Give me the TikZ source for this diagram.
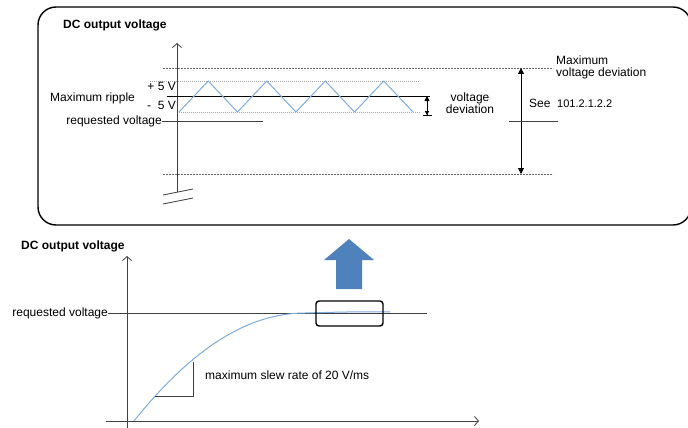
\documentclass[tikz,border=0pt]{standalone}
\usepackage{fontspec}
\setmainfont{Liberation Sans}
\usetikzlibrary{arrows.meta}
\definecolor{ripplecol}{RGB}{125,172,222}
\definecolor{upcol}{RGB}{79,129,189}

\begin{document}
\begin{tikzpicture}[x=1pt,y=-1pt,
	lbl/.style={font=\fontsize{12}{12}\selectfont, inner sep=0pt},
	ttl/.style={font=\fontsize{12}{12}\selectfont\bfseries, inner sep=0pt, anchor=west},
	axis/.style={draw=black!75, line width=0.8pt},
	limit/.style={draw=black!60, dash pattern=on 2pt off 1pt, line width=0.7pt},
	band/.style={draw=black!35, dash pattern=on 1pt off 1pt, line width=0.7pt},
	wave/.style={draw=ripplecol, line width=1pt},
	open/.style={-{Straight Barb[length=4pt,width=9pt]}}]
	\useasboundingbox (0,0) rectangle (688,428);
	
	% upper panel
	\draw[line width=1.4pt, rounded corners=18pt] (38,7) rectangle (691,225);
	\node[ttl] (title1) at (63,25) {DC output voltage};
	
	\coordinate (ax1top) at (177,43);
	\coordinate (ax1bot) at (177,192);
	\draw[axis, open] (ax1bot) -- (ax1top);
	\draw[axis] (163,195) -- (193,189)  (163,204) -- (193,198);
	
	\draw[limit] (163,68) -- (553,68);
	\draw[limit] (163,174) -- (553,174);
	\draw[band] (150,81) -- (420,81);
	\draw[band] (179,112) -- (420,112);
	\draw[axis, black] (167,96) -- (430,96);
	\foreach \k in {0,...,3}
		\draw[wave] ({179+58.5*\k},112) -- ({208.25+58.5*\k},81) -- ({237.5+58.5*\k},112);
	
	\node[lbl, anchor=west] (ripple) at (50,98) {Maximum ripple};
	\node[lbl, anchor=east] (plus) at (176,86) {+ 5 V};
	\node[lbl, anchor=east] (minus) at (176,105) {-\ \ 5 V};
	\node[lbl, anchor=east] (req1) at (162,121) {requested voltage};
	\draw[axis] (req1.east) -- (263,121);
	
	\coordinate (dvtop) at (427,96);
	\coordinate (dvbot) at (427,116);
	\draw[axis, black, {Bar[width=9pt]Triangle[length=4pt,width=4pt]}-{Triangle[length=5pt,width=5pt]}] (dvbot) -- (dvtop);
	\node[lbl, align=center] (vdev) at (470,103) {voltage\\deviation};
	
	\coordinate (mdtop) at (521,68);
	\coordinate (mdbot) at (521,174);
	\draw[axis, black, {Triangle[length=6pt,width=6pt]}-{Triangle[length=6pt,width=6pt]}] (mdbot) -- (mdtop);
	\draw[axis] (509,121) -- (558,121);
	\node[lbl, anchor=west] (see) at (529,103) {See\ \ {\fontsize{11}{11}\selectfont 101.2.1.2.2}};
	\node[lbl, anchor=west, align=left, font=\fontsize{12}{11.5}\selectfont] (maxdev) at (556,67.5) {Maximum\\voltage deviation};
	
	% lower panel
	\node[ttl] (title2) at (21,246) {DC output voltage};
	\coordinate (ax2top) at (127,256);
	\coordinate (ax2bot) at (127,430);
	\coordinate (ax2left) at (106,421);
	\coordinate (ax2right) at (479,421);
	\draw[axis, open] (ax2bot) -- (ax2top);
	\draw[axis, open] (ax2left) -- (ax2right);
	
	\node[lbl, anchor=east] (req2) at (108,313) {requested voltage};
	\draw[axis] (req2.east) -- (427,313);
	
	\draw[wave] (134,421) .. controls (194,346) and (250,313) .. (305,313) .. controls (340,312) and (365,311.5) .. (390,312);
	\draw[axis] (155,396) -- (193,396) -- (193,362);
	\node[lbl, anchor=west] (slew) at (205,375) {maximum slew rate of 20 V/ms};
	
	\node[draw, line width=1.4pt, rounded corners=3pt, minimum width=67pt, minimum height=25pt, inner sep=0pt] (zoombox) at (349.5,313.5) {};
	
	\fill[upcol] (336,289) -- (336,260) -- (324,260) -- (349,239) -- (374,260) -- (362,260) -- (362,289) -- cycle;
\end{tikzpicture}
\end{document}
